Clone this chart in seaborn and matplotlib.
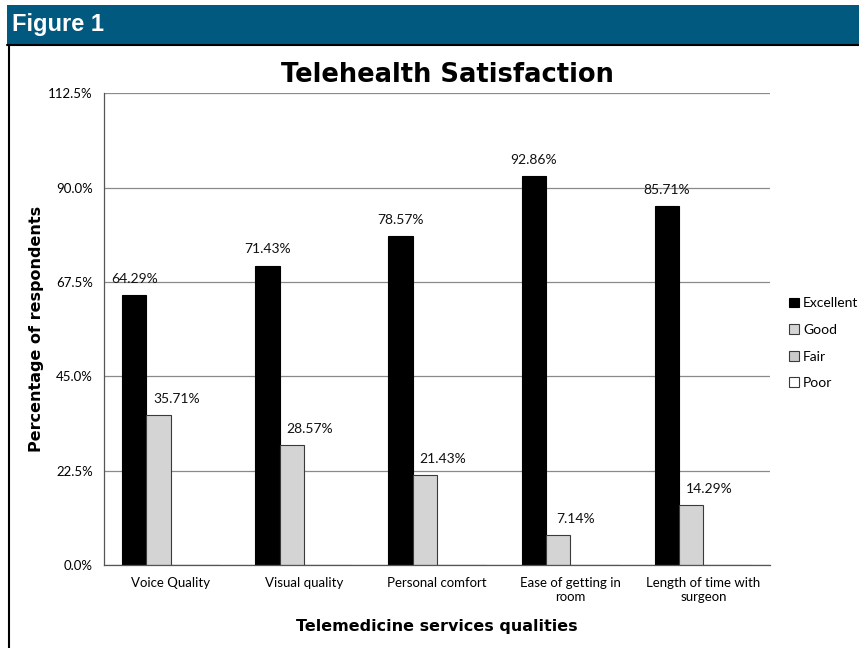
import numpy as np
import pandas as pd
import matplotlib
matplotlib.use('Agg')
import matplotlib.pyplot as plt
import seaborn as sns
from matplotlib.patches import Patch, Rectangle
from matplotlib.lines import Line2D

categories = ['Voice Quality', 'Visual quality', 'Personal comfort',
              'Ease of getting in\nroom', 'Length of time with\nsurgeon']
excellent = [64.29, 71.43, 78.57, 92.86, 85.71]
good = [35.71, 28.57, 21.43, 7.14, 14.29]
fair = [0, 0, 0, 0, 0]
poor = [0, 0, 0, 0, 0]
levels = ['Excellent', 'Good', 'Fair', 'Poor']
colors = {'Excellent': '#000000', 'Good': '#d4d4d4', 'Fair': '#cbcbcb', 'Poor': '#ffffff'}
edges = {'Excellent': '#000000', 'Good': '#3a3a3a', 'Fair': '#3a3a3a', 'Poor': '#3a3a3a'}

rows = []
for lvl, vals in zip(levels, [excellent, good, fair, poor]):
    for c, v in zip(categories, vals):
        rows.append({'quality': c, 'rating': lvl, 'pct': v})
df = pd.DataFrame(rows)

sns.set_style('white')
plt.rcParams['text.color'] = 'black'
plt.rcParams['xtick.color'] = 'black'
plt.rcParams['ytick.color'] = 'black'
plt.rcParams['axes.labelcolor'] = 'black'
body_font = ['Lato', 'DejaVu Sans']
fig = plt.figure(figsize=(8.59, 6.48), dpi=100)
ax = fig.add_axes([0.1211, 0.1281, 0.8964 - 0.1211, 0.856 - 0.1281])

sns.barplot(data=df, x='quality', y='pct', hue='rating', hue_order=levels,
            palette=colors, width=0.73, legend=False, ax=ax, errorbar=None,
            linewidth=0.8)

# recolour edges per series and add value labels
n = len(categories)
for i, lvl in enumerate(levels):
    for j, p in enumerate(ax.patches[i * n:(i + 1) * n]):
        p.set_edgecolor(edges[lvl])
        h = p.get_height()
        if h > 0:
            cx = p.get_x() + p.get_width() / 2
            if lvl == 'Good':
                cx += 0.135
            ax.text(cx, h + 2.4, f'{h:.2f}%', ha='center', va='bottom',
                    fontsize=10, family=body_font, color='#111111')

ax.set_ylim(0, 112.5)
ax.set_xlim(-0.5, n - 0.5)
ax.set_yticks(np.arange(0, 112.6, 22.5))
ax.set_yticklabels([f'{t:.1f}%' for t in np.arange(0, 112.6, 22.5)],
                   fontsize=9.5, family=body_font)
ax.set_xticklabels(categories, fontsize=9.5, family=body_font)
ax.set_xticks(np.arange(-0.5, n, 1), minor=True)
ax.tick_params(axis='x', which='major', length=0, pad=9)
ax.tick_params(axis='x', which='minor', length=5, width=0.8, color='#555555')
ax.tick_params(axis='y', length=5, width=0.8, color='#555555', pad=3)
ax.yaxis.grid(True, color='#8a8a8a', linewidth=0.9)
ax.set_axisbelow(True)
for s in ['top', 'right']:
    ax.spines[s].set_visible(False)
for s in ['left', 'bottom']:
    ax.spines[s].set_color('#555555')
    ax.spines[s].set_linewidth(0.9)

ax.set_xlabel('Telemedicine services qualities', fontsize=11.5, fontweight='bold',
              family='DejaVu Sans', labelpad=11)
ax.set_ylabel('Percentage of respondents', fontsize=11.5, fontweight='bold',
              family='DejaVu Sans', labelpad=3)
ax.set_title('Telehealth Satisfaction', fontsize=18.5, fontweight='heavy',
             family='DejaVu Sans', pad=8, color='black', x=0.515)

handles = [Patch(facecolor=colors[l], edgecolor=edges[l], linewidth=0.8, label=l)
           for l in levels]
ax.legend(handles=handles, loc='center left', bbox_to_anchor=(1.01, 0.47),
          frameon=False, handlelength=0.7, handleheight=0.7, handletextpad=0.3,
          labelspacing=1.05, prop={'family': body_font, 'size': 10})

# header bar and panel border
fig.patches.append(Rectangle((7 / 859, 1 - 44 / 648), 1, 39 / 648,
                             transform=fig.transFigure, facecolor='#02597f',
                             edgecolor='none', zorder=0))
fig.lines.append(Line2D([7 / 859, 1], [1 - 44.5 / 648] * 2, transform=fig.transFigure,
                        color='black', linewidth=1.5))
fig.lines.append(Line2D([8.5 / 859] * 2, [0, 1 - 44.5 / 648], transform=fig.transFigure,
                        color='black', linewidth=1.5))
fig.text(12 / 859, 1 - 24 / 648, 'Figure 1', color='white', fontsize=17,
         fontweight='bold', family='Liberation Sans', va='center', ha='left')

fig.savefig('out.png', dpi=100)
